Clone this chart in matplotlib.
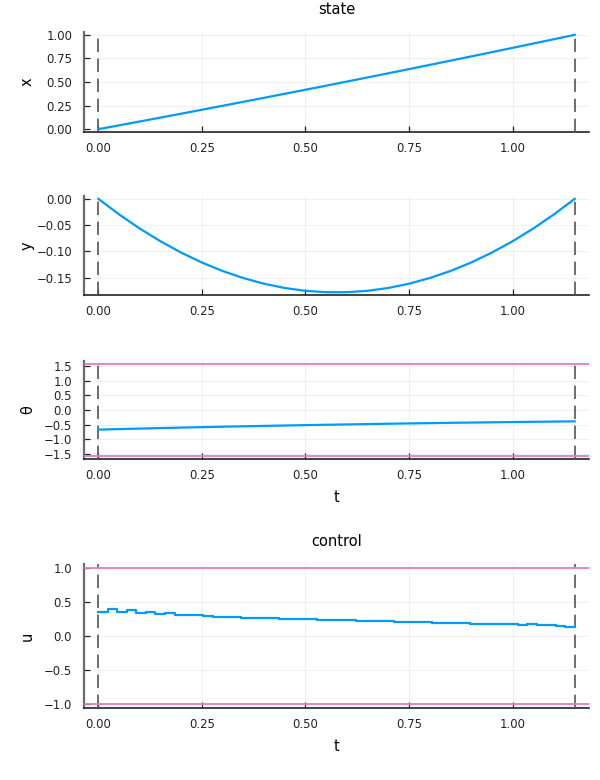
import numpy as np
import matplotlib
matplotlib.use("Agg")
import matplotlib.pyplot as plt

# ---------------- data ----------------
t0 = 0.0
tf = 1.15
t_state = [0.00, 0.05, 0.10, 0.15, 0.20, 0.25, 0.30, 0.35, 0.40, 0.45, 0.50, 0.55,
           0.60, 0.65, 0.70, 0.75, 0.80, 0.85, 0.90, 0.95, 1.00, 1.05, 1.10, 1.15]
x_vals = [0.0, 0.0406, 0.0815, 0.1227, 0.1641, 0.2057, 0.2477, 0.2898, 0.3323, 0.375,
          0.418, 0.4612, 0.5046, 0.5484, 0.5924, 0.6366, 0.6812, 0.7259, 0.771, 0.8162,
          0.8618, 0.9076, 0.9537, 1.0]
y_vals = [0.0, -0.0296, -0.0565, -0.0807, -0.1022, -0.1211, -0.1372, -0.1506, -0.1614,
          -0.1695, -0.1749, -0.1775, -0.1775, -0.1749, -0.1695, -0.1614, -0.1506, -0.1372,
          -0.1211, -0.1022, -0.0807, -0.0565, -0.0296, 0.0]
theta_vals = [-0.667, -0.649, -0.631, -0.614, -0.598, -0.583, -0.568, -0.554, -0.540,
              -0.527, -0.514, -0.502, -0.490, -0.478, -0.467, -0.456, -0.446, -0.436,
              -0.427, -0.418, -0.409, -0.401, -0.393, -0.386]
theta_bounds = [-1.5708, 1.5708]

u_vals = [0.353, 0.400, 0.353, 0.377, 0.343, 0.358, 0.329, 0.339, 0.314, 0.314,
          0.303, 0.300, 0.285, 0.285, 0.276, 0.271, 0.265, 0.262, 0.260, 0.257,
          0.255, 0.250, 0.246, 0.242, 0.238, 0.234, 0.230, 0.226, 0.222, 0.218,
          0.214, 0.210, 0.206, 0.203, 0.199, 0.196, 0.193, 0.190, 0.187, 0.184,
          0.181, 0.178, 0.176, 0.172, 0.166, 0.170, 0.155, 0.165, 0.145, 0.137]
u_bounds = [-1.0, 1.0]

x_ticks = [0.00, 0.25, 0.50, 0.75, 1.00]
x_ticklabels = ["0.00", "0.25", "0.50", "0.75", "1.00"]
x_yticks = [0.00, 0.25, 0.50, 0.75, 1.00]
y_yticks = [0.00, -0.05, -0.10, -0.15]
theta_yticks = [-1.5, -1.0, -0.5, 0.0, 0.5, 1.0, 1.5]
u_yticks = [-1.0, -0.5, 0.0, 0.5, 1.0]

# ---------------- style ----------------
BLUE = "#009AFA"
PINK = "#E27BBE"
DASH = "#555555"

plt.rcParams['font.family'] = ['DejaVu Sans']
W, H = 600, 780
fig = plt.figure(figsize=(W / 100, H / 100), dpi=100)
LEFT, RIGHT = 84, 589

def px_axes(top, bottom):
    return fig.add_axes([LEFT / W, 1 - bottom / H, (RIGHT - LEFT) / W, (bottom - top) / H])

def style(ax, yticks, yfmt):
    for s in ["top", "right"]:
        ax.spines[s].set_visible(False)
    ax.spines["left"].set_color("#6a6a6a")
    ax.spines["left"].set_linewidth(1.6)
    ax.spines["bottom"].set_color("#222222")
    ax.spines["bottom"].set_linewidth(1.2)
    ax.set_xlim(t0 - 0.03 * (tf - t0), tf + 0.03 * (tf - t0))
    ax.set_xticks(x_ticks)
    ax.set_xticklabels(x_ticklabels)
    ax.set_yticks(yticks)
    ax.set_yticklabels([yfmt.format(v).replace("-", "\u2212") for v in yticks])
    ax.tick_params(direction="in", length=4, width=0.9, labelsize=8.4, colors="#222222")
    ax.tick_params(axis="y", pad=8.5)
    ax.tick_params(axis="x", pad=7)
    ax.grid(True, color="#000000", alpha=0.07, linewidth=0.6)
    ax.set_axisbelow(True)
    ax.axvline(t0, color=DASH, lw=1.2, ls=(0, (8, 4)), zorder=3)
    ax.axvline(tf, color=DASH, lw=1.2, ls=(0, (8, 4)), zorder=3)
    ax.yaxis.set_label_coords((35 - LEFT) / (RIGHT - LEFT), 0.5)

def widen(lo, hi):
    d = 0.03 * (hi - lo)
    return lo - d, hi + d

LABEL_FS = 10.5

# x
ax1 = px_axes(32, 132)
style(ax1, x_yticks, "{:.2f}")
ax1.plot(t_state, x_vals, color=BLUE, lw=1.6, zorder=4)
ax1.set_ylim(*widen(0.0, 1.0))
ax1.set_ylabel("x", fontsize=LABEL_FS)
ax1.set_title("state", fontsize=10.5, pad=13)

# y
ax2 = px_axes(196, 295)
style(ax2, y_yticks, "{:.2f}")
ax2.plot(t_state, y_vals, color=BLUE, lw=1.6, zorder=4)
ax2.set_ylim(*widen(min(y_vals), 0.0))
ax2.set_ylabel("y", fontsize=LABEL_FS)

# theta
ax3 = px_axes(361, 459)
style(ax3, theta_yticks, "{:.1f}")
for b in theta_bounds:
    ax3.axhline(b, color=PINK, lw=1.3, zorder=3)
ax3.plot(t_state, theta_vals, color=BLUE, lw=1.6, zorder=4)
ax3.set_ylim(*widen(theta_bounds[0], theta_bounds[1]))
ax3.set_ylabel("θ", fontsize=LABEL_FS)
ax3.set_xlabel("t", fontsize=LABEL_FS, labelpad=6)

# control
ax4 = px_axes(564, 708)
style(ax4, u_yticks, "{:.1f}")
for b in u_bounds:
    ax4.axhline(b, color=PINK, lw=1.3, zorder=3)
n = len(u_vals)
t_ctrl = np.linspace(t0, tf, n + 1)
ax4.step(t_ctrl, list(u_vals) + [u_vals[-1]], where="post", color=BLUE, lw=1.6, zorder=4)
ax4.set_ylim(*widen(u_bounds[0], u_bounds[1]))
ax4.set_ylabel("u", fontsize=LABEL_FS)
ax4.set_xlabel("t", fontsize=LABEL_FS, labelpad=6)
ax4.set_title("control", fontsize=10.5, pad=13)

fig.savefig("out.png", dpi=100)
